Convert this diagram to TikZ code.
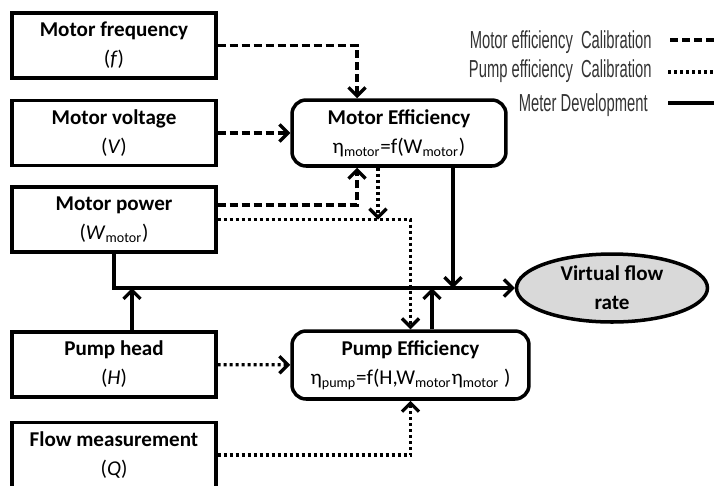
\documentclass[tikz,border=0pt]{standalone}
\usepackage{fontspec}
\setmainfont{Carlito}
\newfontfamily\legendfont{Liberation Sans}
\usetikzlibrary{arrows.meta,shapes.geometric}

\begin{document}
\begin{tikzpicture}[x=0.02cm,y=-0.02cm,
    inbox/.style={draw,line width=2pt,minimum width=4.08cm,minimum height=1.3cm,
        align=center,font=\fontsize{12}{16.5}\selectfont},
    effbox/.style={inbox,rounded corners=8pt},
    outnode/.style={ellipse,draw,line width=2pt,fill=gray!30,inner sep=0pt,
        minimum width=3.82cm,minimum height=1.36cm,align=center,
        font=\fontsize{12}{16.5}\selectfont\bfseries},
    link/.style={line width=1.9pt,-{Straight Barb[length=1.7mm,width=3.4mm]}},
    motorcal/.style={link,dash pattern=on 1.6mm off 0.8mm},
    pumpcal/.style={link,dash pattern=on 0.6mm off 0.6mm},
    meter/.style={link},
    legtext/.style={anchor=east,inner sep=0pt,text=black!80,
        font=\legendfont\fontsize{14}{14}\selectfont}]
    \useasboundingbox (0,0) rectangle (714,485);

    % Measured inputs
    \node[inbox] (freq) at (114,45.5) {\textbf{Motor frequency}\\(\textit{f})};
    \node[inbox] (volt) at (114,133) {\textbf{Motor voltage}\\(\textit{V})};
    \node[inbox] (power) at (114,219.5) {\textbf{Motor power}\\(\textit{W}\textsubscript{motor})};
    \node[inbox] (head) at (114,364.5) {\textbf{Pump head}\\(\textit{H})};
    \node[inbox] (flow) at (114,455) {\textbf{Flow measurement}\\(\textit{Q})};

    % Efficiency models
    \node[effbox,minimum width=4.28cm,minimum height=1.32cm] (meff) at (399,133)
        {\textbf{Motor Efficiency}\\η\textsubscript{motor}=f(W\textsubscript{motor})};
    \node[effbox,minimum width=4.74cm,minimum height=1.36cm] (peff) at (410.5,365)
        {\textbf{Pump Efficiency}\\η\textsubscript{pump}=f(H,W\textsubscript{motor}η\textsubscript{motor} )};

    % Output
    \node[outnode] (vfr) at (612,288) {Virtual flow\\rate};

    % Motor efficiency calibration
    \draw[motorcal] (freq.east) -| ([xshift=-0.84cm]meff.north);
    \draw[motorcal] (volt) -- (meff);
    \draw[motorcal] ([yshift=0.29cm]power.east) -| ([xshift=-0.84cm]meff.south);

    % Pump efficiency calibration
    \draw[pumpcal] (power.east) -| (peff.north);
    \draw[pumpcal] ([xshift=-0.42cm]meff.south) -- ([xshift=-0.42cm]meff.south |- power.east);
    \draw[pumpcal] (head) -- (peff);
    \draw[pumpcal] (flow.east) -| (peff.south);

    % Meter development
    \draw[meter] (power.south) |- (vfr.west);
    \draw[meter] ([xshift=0.36cm]head.north) -- ([xshift=0.36cm]head.north |- vfr.west);
    \draw[meter] ([xshift=0.43cm]peff.north) -- ([xshift=0.43cm]peff.north |- vfr.west);
    \draw[meter] ([xshift=1.08cm]meff.south) -- ([xshift=1.08cm]meff.south |- vfr.west);

    % Legend
    \node[legtext] (leg1) at (652,42) {\scalebox{0.6}[1]{Motor efficiency\ \ Calibration}};
    \node[legtext] (leg2) at (652,71) {\scalebox{0.6}[1]{Pump efficiency\ \ Calibration}};
    \node[legtext] (leg3) at (648,105) {\scalebox{0.6}[1]{Meter Development}};
    \coordinate (l1a) at (670,40);  \coordinate (l1b) at (714,40);
    \coordinate (l2a) at (668,72);  \coordinate (l2b) at (714,72);
    \coordinate (l3a) at (668,103); \coordinate (l3b) at (714,103);
    \draw[motorcal,-] (l1a) -- (l1b);
    \draw[pumpcal,-] (l2a) -- (l2b);
    \draw[meter,-] (l3a) -- (l3b);
\end{tikzpicture}
\end{document}
